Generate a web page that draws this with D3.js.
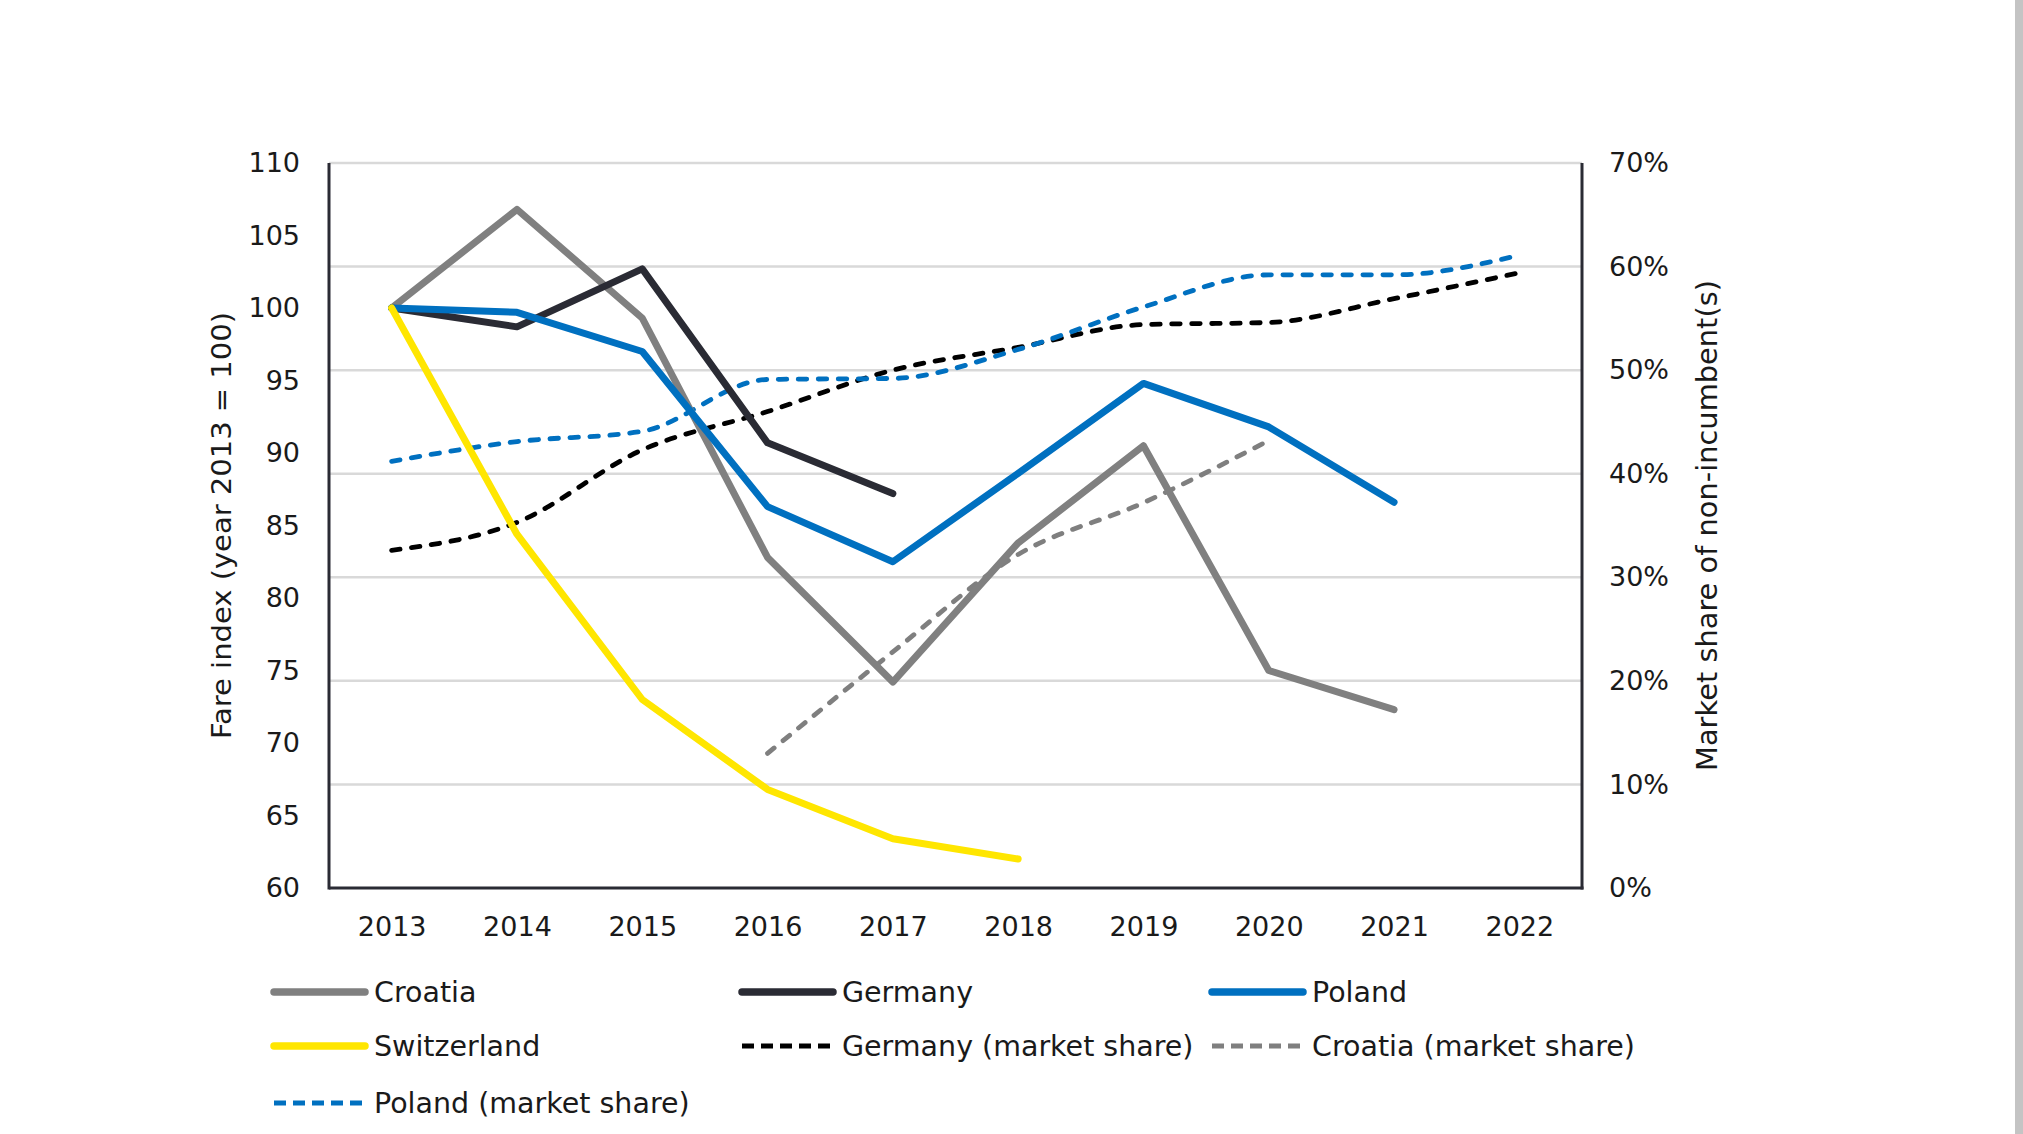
<!DOCTYPE html>
<html>
<head>
<script src="https://d3js.org/d3.v7.min.js"></script>
<style>
  body { margin: 0; background: #fff; }
  text { font-family: "DejaVu Sans", Verdana, sans-serif; fill: #1a1a1a; }
</style>
</head>
<body>
<script>
// data
const years = [2013, 2014, 2015, 2016, 2017, 2018, 2019, 2020, 2021, 2022];
const croatia = [100, 106.8, 99.3, 82.8, 74.2, 83.8, 90.5, 75.0, 72.3, null];
const germany = [100, 98.7, 102.7, 90.7, 87.2, null, null, null, null, null];
const poland = [100, 99.7, 97.0, 86.3, 82.5, 88.6, 94.8, 91.8, 86.6, null];
const switzerland = [100, 84.4, 73.0, 66.8, 63.4, 62.0, null, null, null, null];
// market share in %
const germanyShare = [32.6, 35.3, 42.3, 46.0, 50.0, 52.2, 54.4, 54.6, 56.9, 59.4];
const croatiaShare = [null, null, null, 13.0, 22.8, 32.2, 37.2, 43.2, null, null];
const polandShare = [41.2, 43.1, 44.1, 49.1, 49.2, 52.0, 56.1, 59.2, 59.2, 61.1];

const leftTicks = [60, 65, 70, 75, 80, 85, 90, 95, 100, 105, 110];
const rightTicks = [0, 10, 20, 30, 40, 50, 60, 70];

const series = [
  { name: "Croatia", values: croatia, axis: "left", color: "#808080", dashed: false },
  { name: "Germany", values: germany, axis: "left", color: "#2a2b34", dashed: false },
  { name: "Poland", values: poland, axis: "left", color: "#0070c0", dashed: false },
  { name: "Switzerland", values: switzerland, axis: "left", color: "#ffe600", dashed: false },
  { name: "Germany (market share)", values: germanyShare, axis: "right", color: "#000000", dashed: true },
  { name: "Croatia (market share)", values: croatiaShare, axis: "right", color: "#7f7f7f", dashed: true },
  { name: "Poland (market share)", values: polandShare, axis: "right", color: "#0070c0", dashed: true }
];

const width = 2023, height = 1134;
const plot = { left: 329, right: 1582, top: 163, bottom: 888 };

const svg = d3.select("body").append("svg")
  .attr("width", width)
  .attr("height", height);

svg.append("rect").attr("width", width).attr("height", height).attr("fill", "#fff");
// screenshot edge strip on the right
svg.append("rect").attr("x", 2015).attr("y", 0).attr("width", 8).attr("height", height).attr("fill", "#c4c4c4");

const x = d3.scalePoint().domain(years).range([plot.left, plot.right]).padding(0.5);
const yL = d3.scaleLinear().domain([60, 110]).range([plot.bottom, plot.top]);
const yR = d3.scaleLinear().domain([0, 70]).range([plot.bottom, plot.top]);

// gridlines follow the right axis
svg.append("g").selectAll("line")
  .data(rightTicks.slice(1))
  .join("line")
  .attr("x1", plot.left).attr("x2", plot.right)
  .attr("y1", d => yR(d)).attr("y2", d => yR(d))
  .attr("stroke", "#d9d9d9")
  .attr("stroke-width", 2.5);

// axes
const axLeft = svg.append("g")
  .attr("transform", `translate(${plot.left},0)`)
  .call(d3.axisLeft(yL).tickValues(leftTicks).tickSize(0).tickPadding(29));
const axRight = svg.append("g")
  .attr("transform", `translate(${plot.right},0)`)
  .call(d3.axisRight(yR).tickValues(rightTicks).tickSize(0).tickPadding(27).tickFormat(d => d + "%"));
const axBottom = svg.append("g")
  .attr("transform", `translate(0,${plot.bottom})`)
  .call(d3.axisBottom(x).tickSize(0).tickPadding(29));

[axLeft, axRight, axBottom].forEach(g => {
  g.attr("font-family", null).attr("font-size", null);
  g.selectAll("text").style("font-size", "27px").attr("fill", "#1a1a1a");
  g.select(".domain").remove();
});

// axis lines
svg.append("line").attr("x1", plot.left).attr("x2", plot.left)
  .attr("y1", plot.top).attr("y2", plot.bottom + 1.5)
  .attr("stroke", "#2a2b34").attr("stroke-width", 3);
svg.append("line").attr("x1", plot.right).attr("x2", plot.right)
  .attr("y1", plot.top).attr("y2", plot.bottom + 1.5)
  .attr("stroke", "#2a2b34").attr("stroke-width", 3);
svg.append("line").attr("x1", plot.left).attr("x2", plot.right + 1.5)
  .attr("y1", plot.bottom).attr("y2", plot.bottom)
  .attr("stroke", "#2a2b34").attr("stroke-width", 3);

// axis titles
svg.append("text")
  .attr("transform", `translate(222,${(plot.top + plot.bottom) / 2}) rotate(-90)`)
  .attr("text-anchor", "middle")
  .attr("dy", "0.35em")
  .style("font-size", "27px")
  .attr("textLength", 427)
  .attr("lengthAdjust", "spacingAndGlyphs")
  .text("Fare index (year 2013 = 100)");

svg.append("text")
  .attr("transform", `translate(1707,${(plot.top + plot.bottom) / 2}) rotate(-90)`)
  .attr("text-anchor", "middle")
  .attr("dy", "0.35em")
  .style("font-size", "28px")
  .attr("textLength", 491)
  .attr("lengthAdjust", "spacingAndGlyphs")
  .text("Market share of non-incumbent(s)");

// lines: dashed shares drawn first, solid fares on top
const drawOrder = [4, 5, 6, 0, 1, 2, 3];
drawOrder.forEach(i => {
  const s = series[i];
  const yScale = s.axis === "left" ? yL : yR;
  const line = d3.line()
    .defined(d => d.v != null)
    .x(d => x(d.year))
    .y(d => yScale(d.v))
    .curve(s.dashed ? d3.curveMonotoneX : d3.curveLinear);
  svg.append("path")
    .datum(years.map((year, j) => ({ year, v: s.values[j] })))
    .attr("d", line)
    .attr("fill", "none")
    .attr("stroke", s.color)
    .attr("stroke-width", s.dashed ? 4.8 : 7)
    .attr("stroke-linejoin", "round")
    .attr("stroke-linecap", "round")
    .attr("stroke-dasharray", s.dashed ? "8.5,11.5" : null);
});

// legend
const legX = [271, 739, 1209];
const legY = [992, 1046, 1103];
const legend = svg.append("g");
series.forEach((s, i) => {
  const lx = legX[i % 3], ly = legY[Math.floor(i / 3)];
  legend.append("line")
    .attr("x1", lx + 3).attr("x2", lx + 94)
    .attr("y1", ly).attr("y2", ly)
    .attr("stroke", s.color)
    .attr("stroke-width", s.dashed ? 4.8 : 7.5)
    .attr("stroke-linecap", s.dashed ? "butt" : "round")
    .attr("stroke-dasharray", s.dashed ? "12,7" : null);
  legend.append("text")
    .attr("x", lx + 103)
    .attr("y", ly)
    .attr("dy", "0.36em")
    .style("font-size", "28.5px")
    .text(s.name);
});
</script>
</body>
</html>
